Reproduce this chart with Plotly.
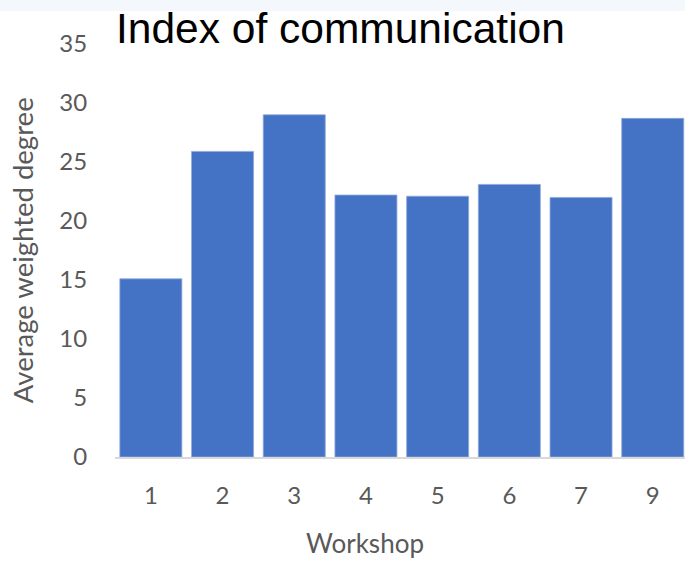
import plotly.graph_objects as go

# Workshop identifiers and the average weighted degree of each workshop
workshops = ["1", "2", "3", "4", "5", "6", "7", "9"]
avg_weighted_degree = [15.1, 25.9, 29.0, 22.2, 22.1, 23.1, 22.0, 28.7]
y_ticks = [0, 5, 10, 15, 20, 25, 30, 35]

BAR_BLUE = "#4472C4"
TEXT_GREY = "#595959"
TICK_FONT = dict(family="Lato, 'Open Sans', sans-serif", size=24, color=TEXT_GREY)

fig = go.Figure(
    go.Bar(
        x=workshops,
        y=avg_weighted_degree,
        marker=dict(color=BAR_BLUE, line=dict(color="#8fa9dc", width=0.8)),
    )
)

fig.update_layout(
    width=685,
    height=562,
    margin=dict(l=115, r=0, t=44, b=105),
    paper_bgcolor="white",
    plot_bgcolor="white",
    bargap=0.135,
    showlegend=False,
    xaxis=dict(
        type="category",
        range=[-0.5, 7.45],
        showgrid=False,
        zeroline=False,
        showline=True,
        linecolor="#d9d9d9",
        linewidth=1.5,
        ticks="outside",
        ticklen=16,
        tickcolor="rgba(0,0,0,0)",
        tickfont=TICK_FONT,
    ),
    yaxis=dict(
        range=[0, 35],
        tickvals=y_ticks,
        showgrid=False,
        zeroline=False,
        showline=False,
        ticks="outside",
        ticklen=22,
        tickcolor="rgba(0,0,0,0)",
        tickfont=TICK_FONT,
    ),
    shapes=[
        # faint tinted strip along the top edge
        dict(type="rect", xref="paper", yref="paper", x0=-0.25, x1=1.0,
             y0=1.08, y1=1.2, fillcolor="#f4f8fc", line=dict(width=0), layer="below"),
    ],
    annotations=[
        dict(text="Index of communication", xref="paper", yref="paper",
             x=-0.002, y=0.975, xanchor="left", yanchor="bottom", showarrow=False,
             font=dict(family="Liberation Sans, Arial, sans-serif", size=42.5, color="black")),
        dict(text="Average weighted degree", xref="paper", yref="paper",
             x=-0.162, y=0.5, xanchor="center", yanchor="middle", textangle=-90,
             showarrow=False,
             font=dict(family="Lato, 'Open Sans', sans-serif", size=27.5, color=TEXT_GREY)),
        dict(text="Workshop", xref="paper", yref="paper",
             x=0.439, y=-0.253, xanchor="center", yanchor="bottom", showarrow=False,
             font=dict(family="Lato, 'Open Sans', sans-serif", size=26, color=TEXT_GREY)),
    ],
)

fig.write_html("out.html")
